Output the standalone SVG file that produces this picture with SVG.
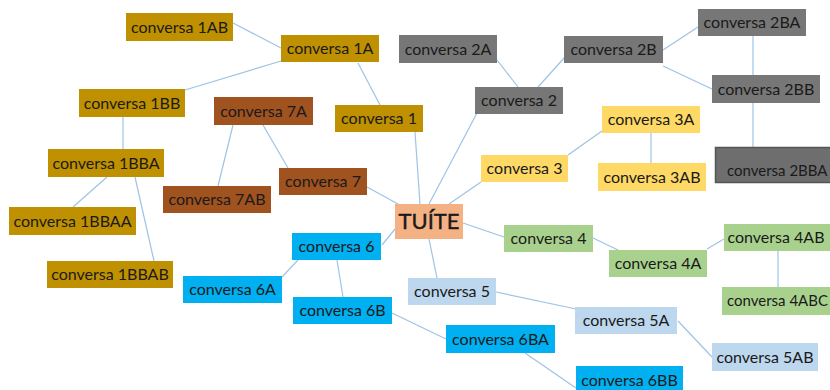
<svg xmlns="http://www.w3.org/2000/svg" width="830" height="390" viewBox="0 0 830 390">
<style>
text{font-family:Lato,"Noto Sans",sans-serif;font-size:16px;fill:#1a1a1a;text-anchor:middle}
.g1{fill:#BF9000}.g7{fill:#A0521F}.g2{fill:#777777}.g3{fill:#FFD966}.g4{fill:#A9D18E}.g5{fill:#BDD7EE}.g6{fill:#00B0F0}
.t{fill:#F4B183}
.edge{text-anchor:start;font-size:15px}
#connectors line{stroke:#9DC3E6;stroke-width:1.2}
</style>
<rect width="830" height="390" fill="#ffffff"/>
<g id="connectors">
<line x1="233" y1="23" x2="281" y2="48"/>
<line x1="185" y1="90" x2="281" y2="61"/>
<line x1="358" y1="63" x2="380" y2="105"/>
<line x1="123" y1="117" x2="123" y2="149"/>
<line x1="107" y1="177" x2="73" y2="207"/>
<line x1="135" y1="177" x2="154" y2="261"/>
<line x1="233" y1="125" x2="218" y2="186"/>
<line x1="263" y1="125" x2="288" y2="168"/>
<line x1="497" y1="60" x2="518" y2="87"/>
<line x1="538" y1="87" x2="565" y2="57"/>
<line x1="663" y1="50" x2="698" y2="27"/>
<line x1="663" y1="66" x2="712" y2="89"/>
<line x1="753" y1="36" x2="753" y2="75"/>
<line x1="753" y1="103" x2="753" y2="147"/>
<line x1="477" y1="113" x2="429" y2="204"/>
<line x1="415" y1="132" x2="420" y2="204"/>
<line x1="481" y1="182" x2="449" y2="204"/>
<line x1="568" y1="155" x2="602" y2="131"/>
<line x1="651" y1="133" x2="651" y2="163"/>
<line x1="367" y1="187" x2="398" y2="204"/>
<line x1="463" y1="223" x2="504" y2="237"/>
<line x1="593" y1="238" x2="618" y2="250"/>
<line x1="707" y1="249" x2="724" y2="239"/>
<line x1="778" y1="251" x2="778" y2="287"/>
<line x1="395" y1="229" x2="382" y2="245"/>
<line x1="282" y1="277" x2="298" y2="260"/>
<line x1="337" y1="260" x2="343" y2="297"/>
<line x1="429" y1="239" x2="437" y2="278"/>
<line x1="496" y1="292" x2="576" y2="309"/>
<line x1="678" y1="321" x2="712" y2="357"/>
<line x1="392" y1="313" x2="446" y2="339"/>
<line x1="525" y1="353" x2="576" y2="388"/>
</g>
<g id="n-tuite"><rect class="t" x="395" y="204" width="68" height="35"/><text x="429" y="229" style="font-size:22px;stroke:#1a1a1a;stroke-width:0.4">TUÍTE</text></g>
<g id="n-1AB"><rect class="g1" x="126" y="13" width="107" height="28"/><text x="179.5" y="32.5">conversa 1AB</text></g>
<g id="n-1A"><rect class="g1" x="281" y="35" width="98" height="27"/><text x="330" y="54">conversa 1A</text></g>
<g id="n-1BB"><rect class="g1" x="79" y="89" width="106" height="28"/><text x="132" y="108.5">conversa 1BB</text></g>
<g id="n-1"><rect class="g1" x="335" y="105" width="88" height="27"/><text x="379" y="124">conversa 1</text></g>
<g id="n-1BBA"><rect class="g1" x="48" y="149" width="116" height="28"/><text x="106" y="168.5">conversa 1BBA</text></g>
<g id="n-1BBAA"><rect class="g1" x="9" y="207" width="127" height="28"/><text x="72.5" y="226.5">conversa 1BBAA</text></g>
<g id="n-1BBAB"><rect class="g1" x="47" y="261" width="126" height="27"/><text x="110" y="280">conversa 1BBAB</text></g>
<g id="n-7A"><rect class="g7" x="214" y="97" width="99" height="28"/><text x="263.5" y="116.5">conversa 7A</text></g>
<g id="n-7AB"><rect class="g7" x="163" y="186" width="108" height="27"/><text x="217" y="205">conversa 7AB</text></g>
<g id="n-7"><rect class="g7" x="279" y="168" width="88" height="27"/><text x="323" y="187">conversa 7</text></g>
<g id="n-2A"><rect class="g2" x="399" y="35" width="98" height="28"/><text x="448" y="54.5">conversa 2A</text></g>
<g id="n-2"><rect class="g2" x="475" y="87" width="88" height="27"/><text x="519" y="106">conversa 2</text></g>
<g id="n-2B"><rect class="g2" x="564" y="36" width="99" height="27"/><text x="613.5" y="55">conversa 2B</text></g>
<g id="n-2BA"><rect class="g2" x="698" y="9" width="108" height="27"/><text x="752" y="28">conversa 2BA</text></g>
<g id="n-2BB"><rect class="g2" x="712" y="75" width="108" height="28"/><text x="766" y="94.5">conversa 2BB</text></g>
<g id="n-2BBA"><rect x="715.5" y="147.5" width="120" height="35" fill="#6E6E6E" stroke="#555555" stroke-width="1.5"/><text class="edge" x="727" y="176">conversa 2BBA</text></g>
<g id="n-3A"><rect class="g3" x="602" y="106" width="98" height="27"/><text x="651" y="125">conversa 3A</text></g>
<g id="n-3AB"><rect class="g3" x="598" y="163" width="108" height="28"/><text x="652" y="182.5">conversa 3AB</text></g>
<g id="n-3"><rect class="g3" x="481" y="155" width="87" height="27"/><text x="524.5" y="174">conversa 3</text></g>
<g id="n-4"><rect class="g4" x="504" y="225" width="89" height="27"/><text x="548.5" y="244">conversa 4</text></g>
<g id="n-4A"><rect class="g4" x="609" y="250" width="98" height="27"/><text x="658" y="269">conversa 4A</text></g>
<g id="n-4AB"><rect class="g4" x="724" y="224" width="106" height="27"/><text x="776" y="243">conversa 4AB</text></g>
<g id="n-4ABC"><rect class="g4" x="722" y="287" width="112" height="28"/><text class="edge" x="727" y="306">conversa 4ABC</text></g>
<g id="n-5"><rect class="g5" x="408" y="278" width="88" height="27"/><text x="452" y="297">conversa 5</text></g>
<g id="n-5A"><rect class="g5" x="575" y="307" width="102" height="27"/><text x="626" y="326">conversa 5A</text></g>
<g id="n-5AB"><rect class="g5" x="712" y="343" width="106" height="28"/><text x="765" y="362.5">conversa 5AB</text></g>
<g id="n-6"><rect class="g6" x="292" y="233" width="89" height="27"/><text x="336.5" y="252">conversa 6</text></g>
<g id="n-6A"><rect class="g6" x="183" y="276" width="99" height="27"/><text x="232.5" y="295">conversa 6A</text></g>
<g id="n-6B"><rect class="g6" x="293" y="297" width="99" height="27"/><text x="342.5" y="316">conversa 6B</text></g>
<g id="n-6BA"><rect class="g6" x="446" y="325" width="109" height="28"/><text x="500.5" y="344.5">conversa 6BA</text></g>
<g id="n-6BB"><rect class="g6" x="576" y="366" width="107" height="28"/><text x="629.5" y="385.5">conversa 6BB</text></g>
</svg>
